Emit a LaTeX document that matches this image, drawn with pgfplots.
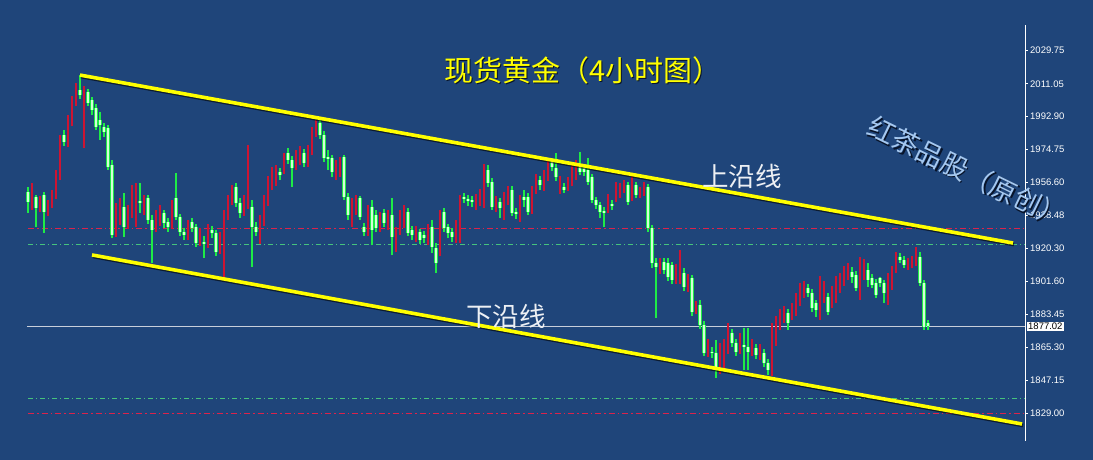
\documentclass[border=0pt]{standalone}
\usepackage{fontspec}
\setmainfont{Liberation Sans}
\newfontfamily\cjk{Noto Sans CJK SC}
\usepackage{pgfplots}
\pgfplotsset{compat=1.18}
\usepackage{pgfplotstable}

\definecolor{bg}{RGB}{31,69,122}
\definecolor{upred}{RGB}{205,20,50}
\definecolor{dngreen}{RGB}{30,235,70}
\definecolor{dnbody}{RGB}{210,255,215}
\definecolor{chanyel}{RGB}{255,255,0}
\definecolor{shade}{RGB}{8,20,42}
\definecolor{lvlred}{RGB}{220,35,75}
\definecolor{lvlgreen}{RGB}{70,195,125}
\definecolor{lastline}{RGB}{200,206,218}
\definecolor{mark}{RGB}{165,200,240}

% 4h candles: bar number, open, high, low, close
\pgfplotstableread{
n o h l c
0 1951.2 1954.0 1939.6 1945.7
1 1944.0 1956.2 1941.3 1955.1
2 1948.5 1949.6 1931.9 1942.4
3 1942.4 1949.0 1940.2 1946.8
4 1949.6 1951.2 1928.6 1940.2
5 1940.2 1946.8 1937.9 1944.0
6 1944.0 1952.3 1942.4 1949.6
7 1949.0 1963.4 1947.4 1960.6
8 1960.1 1982.7 1957.9 1981.1
9 1982.7 1985.5 1976.7 1978.9
10 1978.3 1993.8 1976.1 1991.0
11 1989.9 2004.3 1987.7 2002.1
12 2001.0 2011.5 1998.8 2008.7
13 2007.6 2015.9 2002.7 2004.9
14 2000.4 2009.8 1975.6 2008.7
15 2006.5 2008.2 1998.8 2000.4
16 2002.1 2003.8 1993.8 1996.6
17 1997.7 1999.9 1985.5 1987.2
18 1991.0 1995.5 1980.0 1988.3
19 1987.2 1989.4 1981.6 1984.4
20 1986.6 1988.3 1963.4 1965.1
21 1966.2 1968.9 1925.8 1927.4
22 1929.1 1945.1 1926.3 1941.3
23 1938.5 1947.9 1933.0 1944.0
24 1942.9 1950.7 1926.3 1931.9
25 1933.0 1944.0 1930.8 1940.2
26 1940.2 1955.1 1936.8 1949.6
27 1946.8 1956.2 1931.9 1953.4
28 1946.2 1956.2 1939.6 1945.1
29 1941.3 1949.6 1938.5 1946.8
30 1947.9 1949.6 1933.5 1935.7
31 1935.7 1938.5 1912.0 1930.2
32 1931.9 1941.3 1929.1 1938.5
33 1936.8 1944.0 1932.4 1941.3
34 1939.6 1941.3 1931.3 1934.1
35 1934.6 1936.8 1929.1 1931.9
36 1933.0 1946.8 1930.8 1944.0
37 1947.9 1961.7 1935.7 1937.4
38 1937.4 1939.1 1926.9 1929.1
39 1929.1 1931.3 1924.7 1927.4
40 1926.9 1935.7 1924.7 1933.0
41 1934.6 1936.8 1929.1 1931.3
42 1931.9 1933.5 1920.8 1923.0
43 1923.6 1931.3 1921.4 1929.1
44 1923.6 1926.9 1914.7 1922.5
45 1923.0 1933.5 1920.3 1931.3
46 1930.2 1932.4 1925.8 1928.6
47 1928.6 1930.2 1915.8 1918.0
48 1919.1 1929.1 1916.9 1925.8
49 1924.7 1941.3 1904.2 1938.5
50 1938.5 1949.6 1935.7 1946.8
51 1946.8 1955.1 1944.0 1952.3
52 1954.0 1956.2 1942.9 1945.1
53 1945.1 1947.9 1936.8 1939.6
54 1940.2 1949.6 1937.9 1946.8
55 1944.0 1977.2 1941.8 1949.0
56 1942.9 1946.8 1909.8 1931.9
57 1931.9 1934.6 1926.9 1929.1
58 1924.7 1938.5 1922.5 1935.7
59 1934.6 1949.6 1932.4 1946.8
60 1945.7 1960.1 1943.5 1957.9
61 1955.1 1965.1 1952.3 1962.3
62 1957.9 1966.2 1954.5 1964.5
63 1962.3 1964.5 1957.9 1960.6
64 1963.4 1972.8 1961.2 1970.0
65 1972.8 1975.6 1966.7 1968.9
66 1968.9 1971.1 1954.0 1964.5
67 1965.6 1974.4 1963.4 1971.7
68 1968.9 1976.7 1966.2 1974.4
69 1972.8 1975.0 1965.1 1967.3
70 1967.3 1977.2 1965.1 1974.4
71 1974.4 1987.2 1971.7 1984.4
72 1984.4 1991.0 1981.6 1989.9
73 1989.4 1991.0 1980.5 1982.7
74 1982.7 1985.0 1967.8 1970.0
75 1970.6 1974.4 1963.4 1969.5
76 1970.0 1971.7 1959.5 1962.3
77 1960.6 1968.9 1957.9 1967.3
78 1962.3 1970.6 1959.5 1968.9
79 1970.6 1971.7 1946.8 1948.5
80 1948.5 1950.7 1935.7 1938.5
81 1934.6 1947.9 1931.9 1944.0
82 1941.3 1949.6 1938.5 1948.5
83 1947.9 1949.0 1935.7 1937.4
84 1931.9 1934.1 1926.9 1929.1
85 1929.1 1944.0 1926.9 1941.3
86 1942.9 1946.8 1921.9 1930.2
87 1938.5 1941.3 1929.1 1931.3
88 1931.3 1940.2 1929.1 1936.8
89 1939.6 1941.8 1931.9 1934.1
90 1933.0 1941.3 1930.2 1938.5
91 1938.5 1947.9 1916.4 1926.3
92 1920.3 1931.9 1918.0 1930.2
93 1930.2 1941.3 1927.4 1938.5
94 1936.8 1944.0 1931.3 1941.3
95 1940.2 1942.4 1926.9 1928.6
96 1930.2 1932.4 1924.7 1927.4
97 1925.8 1932.4 1923.6 1930.2
98 1929.1 1930.8 1922.5 1924.7
99 1927.4 1929.7 1923.0 1925.8
100 1924.7 1933.5 1921.9 1931.3
101 1931.9 1935.7 1917.5 1920.8
102 1920.3 1923.0 1906.4 1912.0
103 1918.0 1941.3 1915.8 1940.2
104 1940.2 1942.4 1929.1 1931.3
105 1931.9 1933.5 1925.8 1928.6
106 1929.1 1931.3 1923.6 1926.3
107 1925.8 1935.7 1923.0 1933.0
108 1933.0 1949.6 1923.0 1947.9
109 1948.5 1950.7 1945.1 1947.4
110 1947.4 1949.6 1943.5 1946.2
111 1946.8 1949.0 1942.9 1945.7
112 1942.9 1950.1 1941.3 1947.9
113 1945.7 1952.9 1943.5 1950.7
114 1948.5 1966.7 1942.4 1964.5
115 1963.4 1966.2 1954.0 1956.2
116 1956.8 1959.0 1941.3 1942.9
117 1942.9 1949.0 1940.2 1946.8
118 1945.7 1947.9 1936.8 1942.4
119 1938.5 1951.2 1935.7 1949.6
120 1946.8 1954.5 1944.0 1952.3
121 1952.3 1954.5 1937.9 1939.6
122 1940.2 1942.4 1936.3 1939.1
123 1936.8 1949.6 1934.6 1947.9
124 1948.5 1952.3 1942.9 1946.8
125 1948.5 1950.7 1938.5 1940.2
126 1941.3 1954.5 1939.1 1952.3
127 1952.3 1961.2 1950.1 1959.0
128 1957.9 1960.1 1952.3 1955.1
129 1954.0 1963.4 1951.8 1961.7
130 1959.5 1970.0 1957.3 1967.8
131 1967.8 1970.0 1962.8 1965.1
132 1964.5 1972.8 1957.3 1959.5
133 1952.3 1960.1 1950.1 1957.9
134 1954.0 1956.2 1950.7 1952.3
135 1953.4 1959.5 1951.8 1957.9
136 1956.2 1966.2 1954.5 1964.5
137 1959.5 1968.9 1957.9 1967.3
138 1965.1 1973.3 1960.6 1962.3
139 1964.5 1966.2 1960.1 1962.3
140 1963.4 1970.0 1955.1 1956.8
141 1959.5 1961.2 1945.1 1946.8
142 1946.8 1948.5 1941.8 1944.0
143 1944.0 1945.7 1936.8 1940.2
144 1940.7 1942.9 1931.9 1939.6
145 1941.3 1950.1 1939.6 1948.5
146 1944.6 1946.8 1941.3 1943.5
147 1947.9 1956.8 1945.7 1955.1
148 1949.6 1956.2 1947.9 1954.0
149 1952.3 1957.9 1950.7 1956.2
150 1955.1 1956.8 1944.0 1945.7
151 1947.9 1960.6 1946.2 1959.0
152 1955.1 1956.8 1947.9 1949.6
153 1949.6 1954.0 1947.9 1952.3
154 1950.7 1956.8 1949.0 1955.1
155 1954.0 1955.6 1929.1 1931.3
156 1931.3 1933.0 1909.2 1912.0
157 1912.0 1914.7 1881.5 1909.8
158 1908.1 1914.7 1905.9 1912.0
159 1912.5 1914.7 1905.9 1908.1
160 1912.0 1914.7 1902.0 1904.2
161 1910.9 1912.5 1900.3 1902.6
162 1902.6 1911.4 1900.3 1909.2
163 1902.6 1919.1 1900.3 1916.4
164 1906.4 1909.2 1896.5 1898.7
165 1898.1 1905.9 1895.9 1903.7
166 1903.7 1905.3 1882.7 1884.9
167 1886.0 1890.9 1883.8 1888.7
168 1888.7 1891.5 1875.5 1877.7
169 1877.7 1879.9 1860.5 1862.2
170 1862.2 1870.0 1860.0 1867.7
171 1862.8 1865.5 1859.4 1862.2
172 1862.2 1869.4 1848.4 1852.8
173 1852.8 1867.7 1850.6 1865.5
174 1854.4 1870.0 1852.2 1867.7
175 1863.9 1878.8 1861.6 1876.6
176 1873.3 1875.5 1865.5 1867.7
177 1867.7 1870.0 1860.5 1862.8
178 1863.9 1873.3 1861.6 1871.1
179 1866.6 1876.0 1852.8 1865.5
180 1865.5 1876.0 1852.8 1862.8
181 1862.8 1870.0 1860.5 1867.7
182 1865.0 1867.2 1858.9 1861.1
183 1860.5 1867.2 1858.3 1865.0
184 1862.2 1864.4 1854.4 1856.7
185 1856.7 1858.9 1850.0 1852.8
186 1851.1 1878.8 1849.5 1876.6
187 1867.7 1882.7 1866.1 1880.4
188 1876.6 1886.5 1874.9 1884.3
189 1880.4 1888.2 1878.8 1886.0
190 1884.3 1886.5 1874.9 1878.8
191 1882.1 1889.8 1880.4 1887.6
192 1884.3 1895.4 1882.7 1893.2
193 1889.8 1900.9 1888.2 1898.7
194 1894.3 1902.0 1892.6 1899.8
195 1898.1 1900.3 1893.2 1895.4
196 1895.4 1897.6 1884.9 1887.1
197 1889.8 1891.5 1882.1 1886.0
198 1882.1 1904.8 1880.4 1902.6
199 1891.5 1902.0 1889.8 1899.8
200 1893.2 1895.4 1883.2 1884.9
201 1888.7 1899.2 1887.1 1897.0
202 1891.5 1904.8 1889.8 1902.6
203 1897.0 1906.4 1895.4 1904.2
204 1900.9 1910.3 1899.2 1908.1
205 1904.2 1912.0 1902.6 1909.8
206 1907.0 1909.8 1900.9 1904.2
207 1905.3 1907.5 1896.5 1898.1
208 1897.0 1915.3 1891.5 1910.9
209 1904.2 1914.2 1902.6 1912.0
210 1908.1 1912.0 1898.7 1902.6
211 1903.7 1905.9 1898.1 1899.8
212 1900.9 1903.1 1892.6 1894.3
213 1903.7 1904.2 1898.7 1900.9
214 1900.9 1902.6 1889.8 1895.4
215 1889.8 1906.4 1888.7 1904.2
216 1898.7 1910.3 1897.0 1908.1
217 1908.1 1918.0 1906.4 1915.3
218 1915.3 1917.5 1912.0 1913.6
219 1913.6 1915.8 1909.2 1910.9
220 1909.8 1914.7 1908.1 1912.5
221 1910.9 1915.8 1909.2 1913.6
222 1912.0 1920.8 1910.3 1915.3
223 1915.3 1918.0 1899.2 1900.9
224 1900.9 1902.6 1874.9 1876.6
225 1878.8 1880.4 1874.9 1877.0
}\candles

\begin{document}
\begin{tikzpicture}
\fill[bg] (0,0) rectangle (1093pt,460pt);
\begin{axis}[
    at={(0pt,19pt)}, anchor=south west,
    scale only axis, width=1025pt, height=416pt,
    xmin=-7, xmax=249.25, ymin=1813.5, ymax=2043.6,
    axis x line=none, axis y line*=right,
    axis line style={white, line width=0.8pt},
    ytick={1829,1847.15,1865.3,1883.45,1901.6,1920.3,1938.48,1956.6,1974.75,1992.9,2011.05,2029.75},
    yticklabels={1829.00,1847.15,1865.30,1883.45,1901.60,1920.30,1938.48,1956.60,1974.75,1992.90,2011.05,2029.75},
    tick align=outside, major tick length=3pt,
    y tick style={white, line width=0.8pt},
    yticklabel style={white, font=\fontsize{9.5}{11}\selectfont, anchor=west, inner sep=0pt, xshift=2pt},
    clip=false,
]
% support / resistance levels
\addplot[lvlred, line width=0.9pt, dash pattern=on 6pt off 3pt on 1.5pt off 3pt] coordinates {(0,1930.8) (249.25,1930.8)};
\addplot[lvlgreen, line width=0.9pt, dash pattern=on 5pt off 3pt on 1pt off 3pt] coordinates {(0,1922.2) (249.25,1922.2)};
\addplot[lvlgreen, line width=0.9pt, dash pattern=on 5pt off 3pt on 1pt off 3pt] coordinates {(0,1837.3) (249.25,1837.3)};
\addplot[lvlred, line width=0.9pt, dash pattern=on 6pt off 3pt on 1.5pt off 3pt] coordinates {(0,1828.5) (249.25,1828.5)};
% last price
\addplot[lastline, line width=0.8pt] coordinates {(-0.25,1877.02) (249.25,1877.02)};

% rising candles (red)
\addplot[draw=none, mark=none, restrict expr to domain={\thisrow{c}-\thisrow{o}}{0:500},
    error bars/.cd, y dir=plus, y explicit, error mark=none,
    error bar style={draw=upred, line width=1.1pt}]
    table[x=n, y=l, y error expr=\thisrow{h}-\thisrow{l}] {\candles};
\addplot[draw=none, mark=none, restrict expr to domain={\thisrow{c}-\thisrow{o}}{0:500},
    error bars/.cd, y dir=plus, y explicit, error mark=none,
    error bar style={draw=upred, line width=2.6pt}]
    table[x=n, y=o, y error expr={max(\thisrow{c}-\thisrow{o},0.5)}] {\candles};
% falling candles (green)
\addplot[draw=none, mark=none, restrict expr to domain={\thisrow{o}-\thisrow{c}}{0.001:500},
    error bars/.cd, y dir=plus, y explicit, error mark=none,
    error bar style={draw=dngreen, line width=1.1pt}]
    table[x=n, y=l, y error expr=\thisrow{h}-\thisrow{l}] {\candles};
\addplot[draw=none, mark=none, restrict expr to domain={\thisrow{o}-\thisrow{c}}{0.001:500},
    error bars/.cd, y dir=plus, y explicit, error mark=none,
    error bar style={draw=dngreen, line width=3.2pt}]
    table[x=n, y=c, y error expr={max(\thisrow{o}-\thisrow{c},0.6)}] {\candles};
\addplot[draw=none, mark=none, restrict expr to domain={\thisrow{o}-\thisrow{c}}{0.001:500},
    error bars/.cd, y dir=plus, y explicit, error mark=none,
    error bar style={draw=dnbody, line width=1.3pt}]
    table[x=n, y=c, y error expr={max(\thisrow{o}-\thisrow{c},0.6)}] {\candles};

% channel lines
\addplot[shade, opacity=0.6, line width=3.6pt, xshift=1pt, yshift=-1.5pt] coordinates {(13,2015.9) (246.25,1923.0)};
\addplot[shade, opacity=0.6, line width=3.6pt, xshift=1pt, yshift=-1.5pt] coordinates {(16,1916.4) (248.5,1822.9)};
\addplot[chanyel, line width=3.6pt] coordinates {(13,2015.9) (246.25,1923.0)};
\addplot[chanyel, line width=3.6pt] coordinates {(16,1916.4) (248.5,1822.9)};

\node[fill=white, text=black, font=\fontsize{9.5}{11}\selectfont, inner xsep=1.5pt, inner ysep=1.2pt, anchor=west, xshift=1.5pt]
    at (axis cs:249.25,1877.02) {1877.02};
\end{axis}

% titles and labels
\node[text=shade, font=\cjk\fontsize{29}{32}\selectfont] at (584pt,389pt) {现货黄金（4小时图）};
\node[text=chanyel, font=\cjk\fontsize{29}{32}\selectfont] at (583pt,390pt) {现货黄金（4小时图）};
\node[text=white!92!bg, font=\cjk\fontsize{26.5}{30}\selectfont] at (742pt,284pt) {上沿线};
\node[text=white!92!bg, font=\cjk\fontsize{26.5}{30}\selectfont] at (506pt,144pt) {下沿线};
\node[text=shade, rotate=-26, font=\cjk\fontsize{27}{30}\selectfont] at (968.5pt,286.5pt) {红茶品股（原创）};
\node[text=mark, rotate=-26, font=\cjk\fontsize{27}{30}\selectfont] at (967pt,288pt) {红茶品股（原创）};

\pgfresetboundingbox
\useasboundingbox (0,0) rectangle (1093pt,460pt);
\end{tikzpicture}
\end{document}
